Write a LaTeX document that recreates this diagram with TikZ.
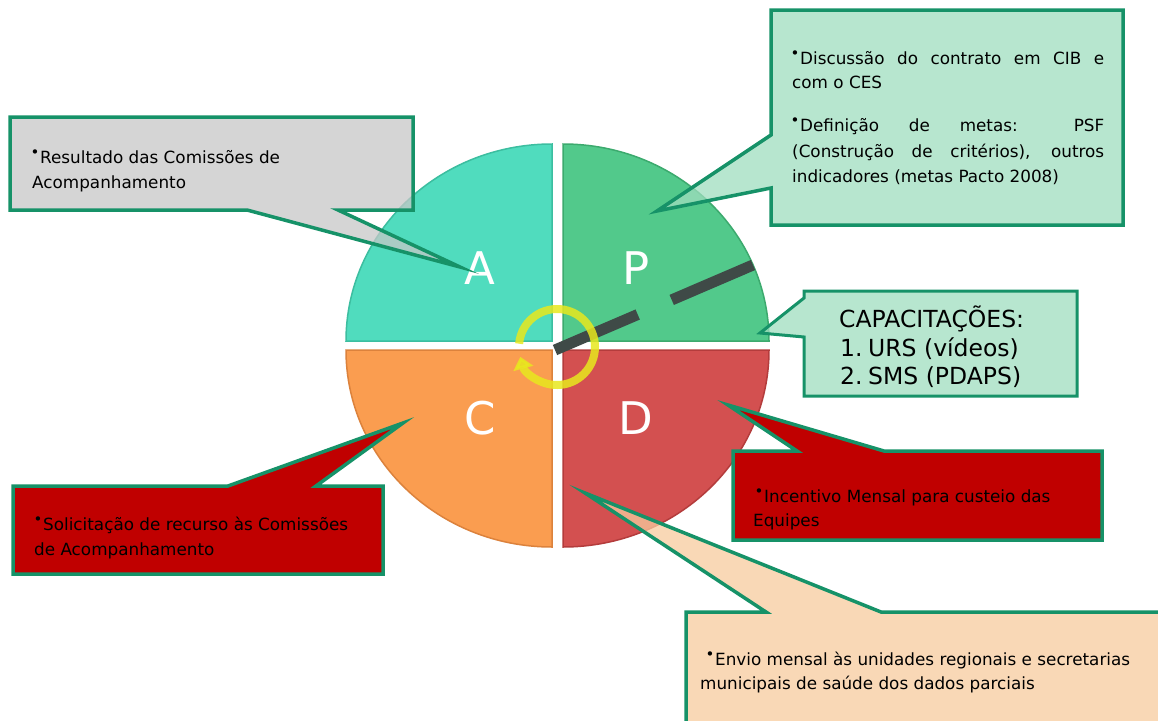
\documentclass[tikz,border=0pt]{standalone}
\usepackage{fontspec}
\setmainfont{DejaVu Sans}
\usetikzlibrary{arrows.meta}
\definecolor{brd}{RGB}{22,146,104}
\definecolor{qA}{RGB}{80,220,190}
\definecolor{qP}{RGB}{82,201,139}
\definecolor{qC}{RGB}{250,157,80}
\definecolor{qD}{RGB}{211,80,80}
\definecolor{qAe}{RGB}{60,190,160}
\definecolor{qPe}{RGB}{60,170,110}
\definecolor{qCe}{RGB}{220,130,60}
\definecolor{qDe}{RGB}{180,60,60}
\definecolor{fGray}{RGB}{199,199,199}
\definecolor{fGreen}{RGB}{160,222,191}
\definecolor{fRed}{RGB}{192,0,0}
\definecolor{fPeach}{RGB}{248,204,158}
\definecolor{dashc}{RGB}{63,74,71}
\definecolor{ringc}{RGB}{232,232,30}
\newcommand{\bul}{\makebox[8pt][l]{\hspace{-1.5pt}\raisebox{5.5pt}{\fontsize{15}{15}\selectfont\textbullet}}}
\begin{document}
\begin{tikzpicture}[x=1pt,y=-1pt,
  cbox/.style={draw=brd,line width=3.5pt,line join=miter,miter limit=20},
  semi/.style={fill opacity=0.75},
  txt/.style={anchor=base west,inner sep=0pt,font=\fontsize{16.8}{20}\selectfont,text=black},
  captxt/.style={anchor=base west,inner sep=0pt,font=\fontsize{23.5}{27}\selectfont,text=black},
  letter/.style={inner sep=0pt,font=\fontsize{45}{50}\selectfont,text=white},
  quad/.style={line width=1.5pt}]
\useasboundingbox (0,0) rectangle (1158,720);
\fill[white] (0,0) rectangle (1158,720);

% quadrants
\filldraw[quad,fill=qA,draw=qAe] (552,341) -- (346,341) arc[start angle=180,end angle=270,x radius=206,y radius=197] -- cycle;
\filldraw[quad,fill=qP,draw=qPe] (563,341) -- (563,144) arc[start angle=270,end angle=360,x radius=206,y radius=197] -- cycle;
\filldraw[quad,fill=qC,draw=qCe] (552,350) -- (552,547) arc[start angle=90,end angle=180,x radius=206,y radius=197] -- cycle;
\filldraw[quad,fill=qD,draw=qDe] (563,350) -- (769,350) arc[start angle=0,end angle=90,x radius=206,y radius=197] -- cycle;

\node[letter] (lA) at (480,268) {A};
\node[letter] (lP) at (636,268) {P};
\node[letter] (lC) at (480,418) {C};
\node[letter] (lD) at (636,418) {D};

% dashed line and ring
\coordinate (lnS) at (555,350);
\coordinate (lnE) at (753,265);
\draw[dashc,line width=11pt,dash pattern=on 90pt off 37pt on 89pt off 10pt] (lnS) -- (lnE);
\coordinate (rc) at (557,347);
\draw[ringc,opacity=0.85,line width=8pt,-{Triangle[width=20pt,length=12pt]}]
  (rc) ++(185:38) arc[start angle=185,end angle=525,radius=38];

% callout A
\coordinate (tipA) at (460,267);
\filldraw[cbox,fill=fGray,semi] (10,117) -- (413,117) -- (413,210) -- (338,210) -- (tipA) -- (247,210) -- (10,210) -- cycle;
\node[txt] (tA1) at (32,163) {\bul Resultado das Comissões de};
\node[txt] (tA2) at (32,188) {Acompanhamento};

% callout P
\coordinate (tipP) at (657,211);
\filldraw[cbox,fill=fGreen,semi] (771,10) -- (1123,10) -- (1123,225) -- (771,225) -- (771,188) -- (tipP) -- (771,135) -- cycle;
\node[txt] (tP1) at (792,64) {\makebox[312pt][s]{\bul Discussão do contrato em CIB e}};
\node[txt] (tP2) at (792,88) {com o CES};
\node[txt] (tP3) at (792,131) {\makebox[312pt][s]{\bul Definição de metas: PSF}};
\node[txt] (tP4) at (792,157) {\makebox[312pt][s]{(Construção de critérios), outros}};
\node[txt] (tP5) at (792,182) {indicadores (metas Pacto 2008)};

% callout capacitações
\coordinate (tipK) at (760,333);
\filldraw[cbox,line width=3pt,fill=fGreen,semi] (804,291) -- (1077,291) -- (1077,396) -- (804,396) -- (804,337) -- (tipK) -- (804,298) -- cycle;
\node[captxt] (tK1) at (839,327) {CAPACITAÇÕES:};
\node[captxt] (nK2) at (840,356) {1.};
\node[captxt] (tK2) at (868,356) {URS (vídeos)};
\node[captxt] (nK3) at (840,384) {2.};
\node[captxt] (tK3) at (868,384) {SMS (PDAPS)};

% callout C
\coordinate (tipC) at (403,423);
\filldraw[cbox,fill=fRed] (13,486) -- (228,486) -- (tipC) -- (316,486) -- (383,486) -- (383,574) -- (13,574) -- cycle;
\node[txt] (tC1) at (35,530) {\bul Solicitação de recurso às Comissões};
\node[txt] (tC2) at (34,555) {de Acompanhamento};

% callout D
\coordinate (tipD) at (728,405);
\filldraw[cbox,fill=fRed] (733,451) -- (797,451) -- (tipD) -- (884,451) -- (1102,451) -- (1102,540) -- (733,540) -- cycle;
\node[txt] (tD1) at (756,502) {\bul Incentivo Mensal para custeio das};
\node[txt] (tD2) at (753,526) {Equipes};

% callout bottom
\coordinate (tipE) at (585,493);
\filldraw[cbox,fill=fPeach,semi] (686,612) -- (766,612) -- (tipE) -- (881,612) -- (1175,612) -- (1175,735) -- (686,735) -- cycle;
\node[txt] (tE1) at (707,665) {\bul Envio mensal às unidades regionais e secretarias};
\node[txt] (tE2) at (700,689) {municipais de saúde dos dados parciais};
\end{tikzpicture}
\end{document}
